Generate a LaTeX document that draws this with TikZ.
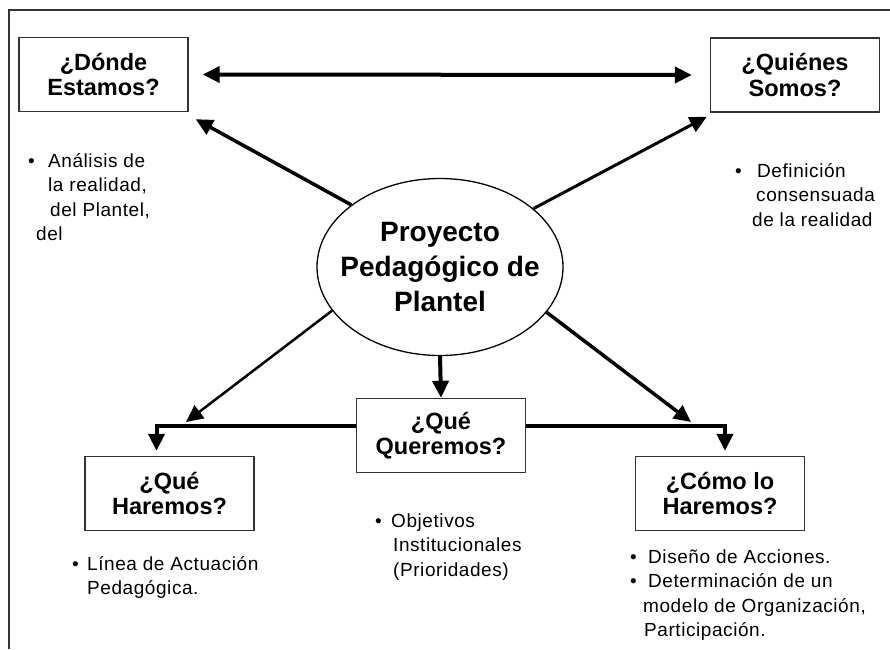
\documentclass[tikz,border=0pt]{standalone}
\usepackage{fontspec}
\setmainfont{Liberation Sans}
\newfontfamily\notefont[LetterSpace=3]{Liberation Sans}
\usetikzlibrary{arrows.meta,shapes.geometric}

\begin{document}
\begin{tikzpicture}[x=1pt,y=-1pt,
   >={Triangle[length=17pt,width=16pt]},
   boxq/.style={draw=black!80, line width=1.4pt, minimum width=169pt, minimum height=74pt,
                align=center, font=\fontsize{23.5}{25.5}\selectfont\bfseries},
   notes/.style={anchor=base west, align=left, inner sep=0pt,
                 font=\notefont\fontsize{19}{24.5}\selectfont},
   link/.style={->, line width=3.5pt}]

\useasboundingbox (0,0) rectangle (890,649);
\draw[line width=1.5pt, black!80] (890,10) -- (9,10) -- (9,649);

% the five questions
\node[boxq] (donde)    at (103.5,74.5) {¿Dónde\\Estamos?};
\node[boxq] (quienes)  at (795,75)     {¿Quiénes\\Somos?};
\node[boxq] (queremos) at (441,435.5)  {¿Qué\\Queremos?};
\node[boxq] (haremos)  at (169.5,493.5) {¿Qué\\Haremos?};
\node[boxq] (como)     at (720,493.5)  {¿Cómo lo\\Haremos?};

% centre
\node[draw, ellipse, line width=1.3pt, minimum width=246pt, minimum height=177pt,
      label={[align=center, font=\fontsize{28}{35}\selectfont\bfseries]center:Proyecto\\Pedagógico de\\Plantel}]
      (proyecto) at (440,267) {};

\coordinate (bus) at (0,426);

% arrows
\draw[link, line width=4pt, <->] ([xshift=14pt]donde.east) -- ([xshift=-18pt]quienes.west);
\draw[link] (proyecto.145) -- ([shift={(7,7)}]donde.south east);
\draw[link, line width=3pt] (proyecto.32) -- ([shift={(-3,4)}]quienes.south west);
\draw[link, line width=2.5pt] (proyecto.202) -- ([shift={(186,-4)}]bus);
\draw[link] (proyecto.337) -- ([shift={(691,-4)}]bus);
\draw[link, line width=4pt] (proyecto.south) -- (queremos.north);
\draw[link, line width=4pt] (queremos.west |- bus) -| ([xshift=-13pt,yshift=5pt]haremos.north);
\draw[link, line width=4pt] (queremos.east |- bus) -| ([xshift=5pt,yshift=5pt]como.north);

% notes (anchored on the last line)
\node[notes] (n1) at (28,240.5) {\makebox[20pt][l]{\textbullet}Análisis de\\
   \hspace*{20pt}la realidad,\\ \hspace*{22pt}del Plantel,\\ \hspace*{8pt}del};
\node[notes] (n2) at (735,226) {\makebox[22pt][l]{\textbullet}Definición\\
   \hspace*{21pt}consensuada\\ \hspace*{17pt}de la realidad};
\node[notes] (n3) at (375,576) {\makebox[16pt][l]{\textbullet}Objetivos\\
   \hspace*{18pt}Institucionales\\ \hspace*{18pt}(Prioridades)};
\node[notes] (n4) at (72,594.5) {\makebox[15pt][l]{\textbullet}Línea de Actuación\\
   \hspace*{15pt}Pedagógica.};
\node[notes] (n5) at (630,636.5) {\makebox[18pt][l]{\textbullet}Diseño de Acciones.\\
   \makebox[18pt][l]{\textbullet}Determinación de un\\
   \hspace*{13pt}modelo de Organización,\\ \hspace*{14pt}Participación.};

\end{tikzpicture}
\end{document}
